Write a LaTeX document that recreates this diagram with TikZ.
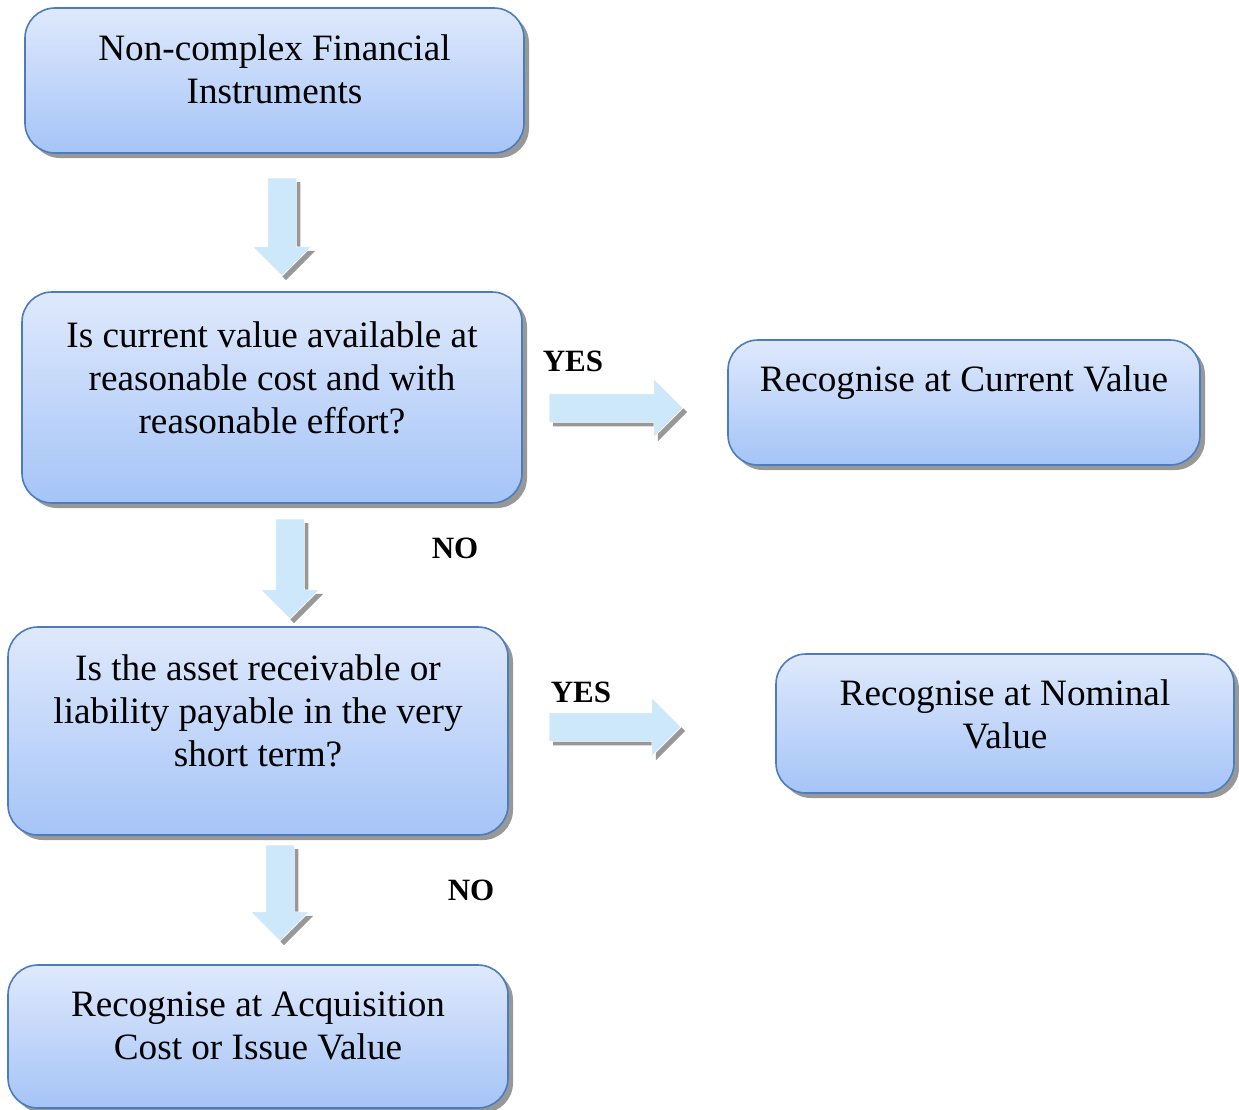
\documentclass[tikz,border=0pt]{standalone}
\usepackage{fontspec}
\setmainfont{Liberation Serif}
\usetikzlibrary{shapes.arrows, shadows}

\definecolor{boxtop}{RGB}{223,233,252}
\definecolor{boxbottom}{RGB}{165,196,247}
\definecolor{boxline}{RGB}{74,124,190}
\definecolor{shadowgray}{RGB}{152,152,152}
\definecolor{arrowfill}{RGB}{206,232,251}

\begin{document}
\begin{tikzpicture}[x = 0.5pt, y = -0.5pt,
	box/.style = {draw = boxline, line width = 0.8pt, rounded corners = 15pt, inner sep = 0pt,
		top color = boxtop, bottom color = boxbottom,
		drop shadow = {shadow xshift = 2.5pt, shadow yshift = -2.5pt, fill = shadowgray, opacity = 1}},
	boxtext/.style = {anchor = north, align = center, inner sep = 0pt, font = \fontsize{18.6}{21.5}\selectfont},
	answer/.style = {font = \fontsize{15.5}{18}\selectfont\bfseries},
	flow/.style = {single arrow, fill = arrowfill, draw = white, line width = 0.3pt,
		inner xsep = 0pt, inner ysep = 7pt, single arrow head extend = 7.5pt,
		drop shadow = {shadow xshift = 2pt, shadow yshift = -2pt, fill = shadowgray, opacity = 1}}]

	\useasboundingbox (0, 0) rectangle (1239, 1110);

	% Boxes

	\node [box, minimum width = 249.5pt, minimum height = 72.5pt] (instr) at (274.5, 80.5) {};
	\node [box, minimum width = 250pt, minimum height = 105.5pt] (current) at (272, 397.5) {};
	\node [box, minimum width = 236pt, minimum height = 62.5pt] (curval) at (964, 402.5) {};
	\node [box, minimum width = 250pt, minimum height = 104pt] (short) at (258, 731) {};
	\node [box, minimum width = 229pt, minimum height = 69.5pt] (nomval) at (1005, 723.5) {};
	\node [box, minimum width = 250pt, minimum height = 71.5pt] (acqval) at (258, 1036.5) {};

	% Box texts

	\node [boxtext] (instr-t) at ([yshift = -13.5pt] instr.north) {Non-complex Financial\\Instruments};
	\node [boxtext] (current-t) at ([yshift = -15pt] current.north) {Is current value available at\\reasonable cost and with\\reasonable effort?};
	\node [boxtext] (curval-t) at ([yshift = -13pt] curval.north) {Recognise at Current Value};
	\node [boxtext] (short-t) at ([yshift = -14pt] short.north) {Is the asset receivable or\\liability payable in the very\\short term?};
	\node [boxtext] (nomval-t) at ([yshift = -13pt] nomval.north) {Recognise at Nominal\\Value};
	\node [boxtext] (acqval-t) at ([yshift = -13.5pt] acqval.north) {Recognise at Acquisition\\Cost or Issue Value};

	% Arrows

	\node [flow, rotate = -90, minimum height = 49pt] (down1) at (282, 220) {};
	\node [flow, rotate = -90, minimum height = 50pt] (down2) at (290, 562) {};
	\node [flow, rotate = -90, minimum height = 48pt] (down3) at (280, 886) {};
	\node [flow, minimum height = 67pt] (right1) at (609, 408) {};
	\node [flow, minimum height = 66pt] (right2) at (608, 727) {};

	% Answers

	\node [answer] (yes1) at (573, 361) {YES};
	\node [answer] (no1) at (455, 548) {NO};
	\node [answer] (yes2) at (581, 692) {YES};
	\node [answer] (no2) at (471, 890) {NO};

\end{tikzpicture}
\end{document}
